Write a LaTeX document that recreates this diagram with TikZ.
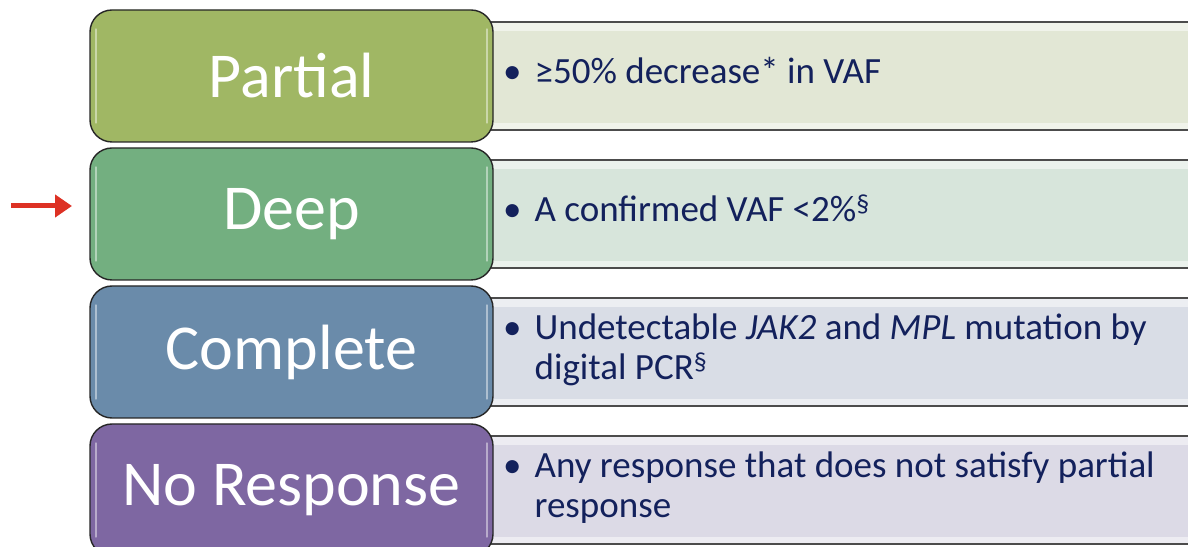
\documentclass[tikz,border=0pt]{standalone}
\usepackage{fontspec}
\setmainfont{Carlito}
\usetikzlibrary{arrows.meta}

\definecolor{partialfill}{HTML}{A0B764}
\definecolor{deepfill}{HTML}{73AF80}
\definecolor{completefill}{HTML}{6A8BAA}
\definecolor{nonefill}{HTML}{7E67A2}
\definecolor{partialpale}{HTML}{E2E7D5}
\definecolor{deeppale}{HTML}{D7E5DB}
\definecolor{completepale}{HTML}{D9DDE6}
\definecolor{nonepale}{HTML}{DCDAE6}
\definecolor{navytext}{HTML}{13215C}
\definecolor{pointer}{HTML}{DD3124}

\tikzset{
  level/.style={draw=black!85, line width=1.4pt, rounded corners=22pt,
    minimum width=403pt, minimum height=132pt, inner sep=0pt,
    text=white, font=\fontsize{64}{70}\selectfont},
  detail/.style={draw=black!70, line width=1.2pt, anchor=west,
    minimum width=720pt, minimum height=108pt, inner sep=0pt},
  detailtext/.style={anchor=west, text=navytext, inner sep=0pt, align=left,
    font=\fontsize{37}{40}\selectfont},
  gloss/.style={white, opacity=0.45, line width=2.2pt, line cap=round},
  bevel/.style={white, opacity=0.5},
}

\newcommand{\bulletrow}[1]{%
  \begin{tabular}{@{}l@{\hspace{13pt}}l@{}}\textbullet & #1\end{tabular}}
\newcommand{\bullettwo}[2]{%
  \begin{tabular}{@{}l@{\hspace{13pt}}l@{}}\textbullet & #1\\ & #2\end{tabular}}

\begin{document}
\begin{tikzpicture}[x=1pt,y=1pt]
\useasboundingbox (0,0) rectangle (1188,546);
\clip (0,0) rectangle (1188,546);

% description bars behind the level boxes
\node[detail, fill=partialpale]  (partialinfo)  at (488,470) {};
\node[detail, fill=deeppale]     (deepinfo)     at (488,332) {};
\node[detail, fill=completepale] (completeinfo) at (488,194) {};
\node[detail, fill=nonepale]     (noneinfo)     at (488,56)  {};

% bevel highlights on the bars
\foreach \strip in {partialinfo,deepinfo,completeinfo,noneinfo}{
  \fill[bevel] ([yshift=-1.5pt]\strip.north west) rectangle ([yshift=-10pt]\strip.north east);
  \fill[bevel] ([yshift=1.5pt]\strip.south west) rectangle ([yshift=8pt]\strip.south east);
}

% level boxes
\node[level, fill=partialfill]  (partial)  at (291.5,470) {Partial};
\node[level, fill=deepfill]     (deep)     at (291.5,332) {Deep};
\node[level, fill=completefill] (complete) at (291.5,194) {Complete};
\node[level, fill=nonefill]     (none)     at (291.5,56)  {No Response};

% glossy edge highlights
\foreach \lvl in {partial,deep,complete,none}{
  \draw[gloss] ([xshift=7pt,yshift=-20pt]\lvl.north west) -- ([xshift=7pt,yshift=20pt]\lvl.south west);
  \draw[gloss] ([xshift=-7pt,yshift=-20pt]\lvl.north east) -- ([xshift=-7pt,yshift=20pt]\lvl.south east);
}

% descriptions
\node[detailtext] (partialtext) at (503,470)
  {\bulletrow{≥50\% decrease* in VAF}};
\node[detailtext] (deeptext) at (503,332)
  {\bulletrow{A confirmed VAF <2\%\textsuperscript{§}}};
\node[detailtext] (completetext) at (503,194)
  {\bullettwo{Undetectable \textit{JAK2} and \textit{MPL} mutation by}{digital PCR\textsuperscript{§}}};
\node[detailtext] (nonetext) at (503,56)
  {\bullettwo{Any response that does not satisfy partial}{response}};

% pointer to the deep response level
\coordinate (pointertail) at (11,340);
\coordinate (pointertip) at (72,340);
\draw[pointer, line width=5pt, -{Triangle[length=17pt,width=22pt]}] (pointertail) -- (pointertip);
\end{tikzpicture}
\end{document}
